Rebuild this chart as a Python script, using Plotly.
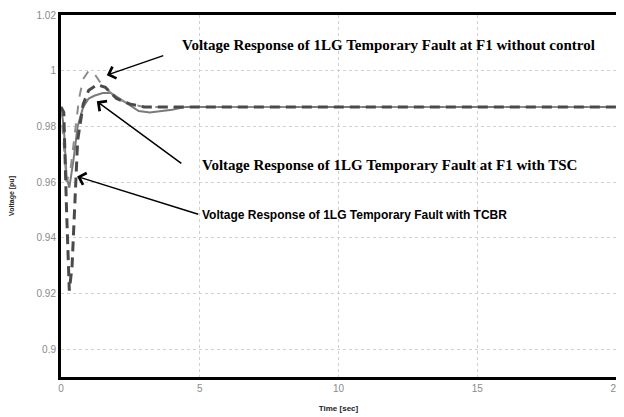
import plotly.graph_objects as go

# Time [sec] and voltage [pu] series
t_tcbr = [0, 0.1, 0.2, 0.3, 0.4, 0.5, 0.6, 0.8, 1.0, 1.3, 1.6, 2.0, 2.5, 3.0, 4.0, 20]
v_tcbr = [0.987, 0.985, 0.95, 0.921, 0.93, 0.955, 0.975, 0.988, 0.993, 0.995, 0.994, 0.99, 0.988, 0.987, 0.987, 0.987]

t_noctl = [0, 0.1, 0.2, 0.35, 0.5, 0.65, 0.8, 1.0, 1.2, 1.4, 1.7, 2.0, 2.5, 3.0, 20]
v_noctl = [0.987, 0.975, 0.96, 0.965, 0.978, 0.99, 0.997, 1.0, 0.999, 0.996, 0.993, 0.99, 0.988, 0.987, 0.987]

t_tsc = [0, 0.1, 0.2, 0.3, 0.45, 0.6, 0.8, 1.0, 1.2, 1.5, 1.8, 2.1, 2.4, 2.8, 3.2, 3.6, 4.0, 4.5, 5.0, 20]
v_tsc = [0.987, 0.98, 0.962, 0.958, 0.968, 0.98, 0.987, 0.99, 0.991, 0.992, 0.992, 0.99, 0.988, 0.9855, 0.985, 0.9855, 0.986, 0.987, 0.987, 0.987]

x_ticks = [0, 5, 10, 15, 20]
y_ticks = [0.9, 0.92, 0.94, 0.96, 0.98, 1.0, 1.02]
y_ticktext = ["0.9", "0.92", "0.94", "0.96", "0.98", "1", "1.02"]

label_noctl = "Voltage Response of 1LG Temporary Fault at F1 without control"
label_tsc = "Voltage Response of 1LG Temporary Fault at F1 with TSC"
label_tcbr = "Voltage Response of 1LG Temporary Fault with TCBR"

fig = go.Figure()
fig.add_trace(go.Scatter(x=t_tsc, y=v_tsc, mode="lines",
                         line=dict(color="#7a7a7a", width=2), name=label_tsc))
fig.add_trace(go.Scatter(x=t_noctl, y=v_noctl, mode="lines",
                         line=dict(color="#8c8c8c", width=2, dash="dash"), name=label_noctl))
fig.add_trace(go.Scatter(x=t_tcbr, y=v_tcbr, mode="lines",
                         line=dict(color="#4a4a4a", width=3, dash="10px,6px"), name=label_tcbr))

serif = dict(family="Liberation Serif", size=15, color="black")
sans = dict(family="Liberation Sans", size=12, color="black")

# arrows (head, tail in data units)
arrows = [
    ((1.65, 0.9984), (3.74, 1.0056)),
    ((1.29, 0.989), (4.39, 0.9663)),
    ((0.58, 0.962), (5.0, 0.9483)),
]
for (hx, hy), (tx, ty) in arrows:
    fig.add_annotation(x=hx, y=hy, ax=tx, ay=ty, xref="x", yref="y", axref="x", ayref="y",
                       text="", showarrow=True, arrowhead=4, arrowsize=1.6, arrowwidth=1.5,
                       arrowcolor="black")

fig.add_annotation(x=4.3, y=1.0092, xref="x", yref="y", text="<b>" + label_noctl + "</b>",
                   showarrow=False, xanchor="left", font=serif)
fig.add_annotation(x=5.0, y=0.9663, xref="x", yref="y", text="<b>" + label_tsc + "</b>",
                   showarrow=False, xanchor="left", font=serif)
fig.add_annotation(x=5.0, y=0.9483, xref="x", yref="y", text="<b>" + label_tcbr + "</b>",
                   showarrow=False, xanchor="left", font=sans)

fig.update_layout(
    width=616, height=409,
    margin=dict(l=53, r=8, t=7, b=40),
    paper_bgcolor="white", plot_bgcolor="white",
    showlegend=False,
    font=dict(family="Liberation Sans", color="#8a8a8a", size=10),
)
fig.update_xaxes(range=[0, 20], tickvals=x_ticks, showline=True, linewidth=3, linecolor="black",
                 mirror=True, showgrid=True, gridcolor="#d0d0d0", griddash="dot", gridwidth=1,
                 zeroline=False, ticks="", tickfont=dict(size=10, color="#8a8a8a"), automargin=False,
                 title=dict(text="<b>Time [sec]</b>", font=dict(size=8, color="#222"), standoff=13))
fig.update_yaxes(range=[0.89, 1.02], tickvals=y_ticks, ticktext=y_ticktext, showline=True,
                 linewidth=3, linecolor="black", mirror=True, showgrid=True, gridcolor="#d0d0d0",
                 griddash="dot", gridwidth=1, zeroline=False, ticks="",
                 tickfont=dict(size=10, color="#8a8a8a"), automargin=False,
                 title=dict(text="<b>Voltage [pu]</b>", font=dict(size=7, color="#222"), standoff=26))

fig.write_html("out.html")
